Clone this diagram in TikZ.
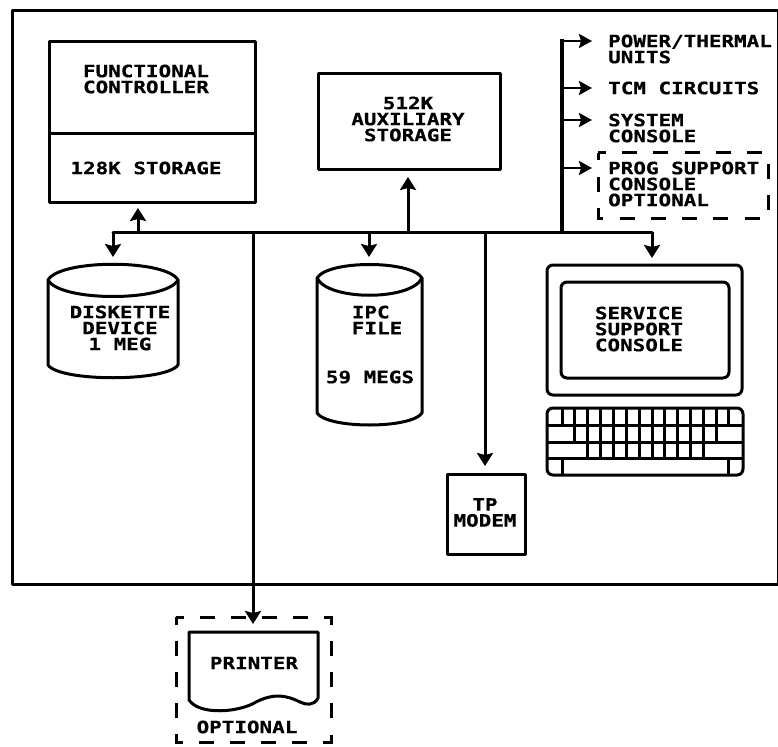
\documentclass[tikz,border=0pt]{standalone}
\usepackage{fontspec}
\setmainfont[FakeStretch=1.23,FakeBold=0.5]{DejaVu Sans Mono Bold}
\usetikzlibrary{arrows.meta}
\tikzset{
 ln/.style={line width=3pt,line join=round},
 keyln/.style={line width=3pt},
 arr/.style={line width=3pt,-{Stealth[length=13pt,width=16pt,inset=2pt]}},
 arrh/.style={line width=2.4pt,-{Stealth[length=13pt,width=14pt,inset=2pt]}},
 dsha/.style={line width=3pt,dash pattern=on 15pt off 16.33pt,dash phase=7.5pt},
 dshb/.style={line width=3pt,dash pattern=on 15pt off 16.11pt,dash phase=7.5pt},
 lbl/.style={font=\fontsize{17}{16}\selectfont,align=center,inner sep=0pt},
 lbll/.style={lbl,align=left,anchor=west},
 boxn/.style={draw,ln,inner sep=0pt,anchor=north west}
}
\begin{document}
\begin{tikzpicture}[x=1pt,y=-1pt]
\useasboundingbox (0,0) rectangle (778,746);
% frame
\node[boxn,minimum width=766pt,minimum height=574pt] (frame) at (11,9) {};
% functional controller
\node[boxn,minimum width=206pt,minimum height=161pt] (fc) at (48,40) {};
\draw[ln] (48,134) -- (254,134);
\node[lbl] (fct) at (146,79) {FUNCTIONAL\\CONTROLLER};
\node[lbl] (fcs) at (146,168) {128K STORAGE};
% aux
\node[boxn,minimum width=182pt,minimum height=96pt] (aux) at (317,72) {};
\node[lbl] (auxt) at (408,119) {512K\\AUXILIARY\\STORAGE};
% right labels
\node[lbll] (pw) at (608,49) {POWER/THERMAL\\UNITS};
\node[lbll] (tcm) at (608,88) {TCM CIRCUITS};
\node[lbll] (sys) at (608,128) {SYSTEM\\CONSOLE};
\node[lbll] (prog) at (608,184) {PROG SUPPORT\\CONSOLE\\OPTIONAL};
\draw[dsha] (598,153) rectangle (768,218);
% diskette
\draw[ln] (48,280) .. controls (60,259) and (166,259) .. (178,280) -- (178,365)
  .. controls (166,382) and (60,382) .. (48,365) -- cycle;
\draw[ln] (48,280) .. controls (60,302) and (166,302) .. (178,280);
\node[lbl] (dk) at (120,328) {DISKETTE\\DEVICE\\1 MEG~};
% IPC
\draw[ln] (317,278) .. controls (328,260) and (411,260) .. (422,278) -- (422,413)
  .. controls (411,429) and (328,429) .. (317,413) -- cycle;
\draw[ln] (317,278) .. controls (328,301) and (411,301) .. (422,278);
\node[lbl,align=left] (ipc) at (377,320) {IPC~\\FILE};
\node[lbl] (ipm) at (370,377) {59 MEGS};
% service console
\draw[ln,rounded corners=6pt] (547,265) rectangle (742,395);
\draw[ln,rounded corners=6pt] (561,282) rectangle (729,378);
\node[lbl] (svc) at (639,329) {SERVICE\\SUPPORT\\CONSOLE};
% keyboard
\draw[ln,rounded corners=6pt] (547,408) rectangle (743,475);
\foreach \y in {425,442,458} \draw[keyln] (547,\y) -- (743,\y);
\foreach \x in {562,574,587,600,613,626,639,652,664,677,690,703,716,728} \draw[keyln] (\x,408) -- (\x,425);
\foreach \x in {574,587,600,613,626,639,652,664,677,690,703,716} \draw[keyln] (\x,425) -- (\x,442);
\foreach \x in {587,600,613,626,639,652,664,677,690,703} \draw[keyln] (\x,442) -- (\x,458);
\foreach \x in {562,728} \draw[keyln] (\x,458) -- (\x,475);
% TP modem
\node[boxn,minimum width=78pt,minimum height=80pt] (tp) at (446,473) {};
\node[lbl] (tpt) at (485,512.5) {TP\\MODEM};
% printer
\draw[dshb] (176,617) rectangle (331,742);
\draw[ln] (189,700) -- (189,632) -- (318,632) -- (318,698)
  .. controls (314,706) and (306,705) .. (300,702)
  .. controls (284,694) and (272,694) .. (256,702)
  .. controls (240,712) and (200,716) .. (189,700) -- cycle;
\node[lbl] (prn) at (254,663) {PRINTER};
\node[lbl] (opt) at (247,727) {OPTIONAL};
% bus
\coordinate (bl) at (113,232);
\coordinate (br) at (652,232);
\coordinate (bup) at (562,232);
\coordinate (top) at (562,41);
\draw[ln,line cap=round] (bl) -- (br);
\draw[arr] (bl) -- (113,257);
\draw[arr] (138,232) -- (138,208);
\draw[arr] (408,232) -- (408,177);
\draw[arr] (369,232) -- (369,257);
\draw[arr] (253,232) -- (253,624);
\draw[arr] (485,232) -- (485,466);
\draw[arr] (br) -- (652,258);
\draw[line width=3.4pt] (bup) -- (562,39.5);
\draw[arrh] (top) -- (592,41);
\draw[arrh] (562,88) -- (592,88);
\draw[arrh] (562,120) -- (592,120);
\draw[arrh] (562,168) -- (592,168);
\end{tikzpicture}
\end{document}
